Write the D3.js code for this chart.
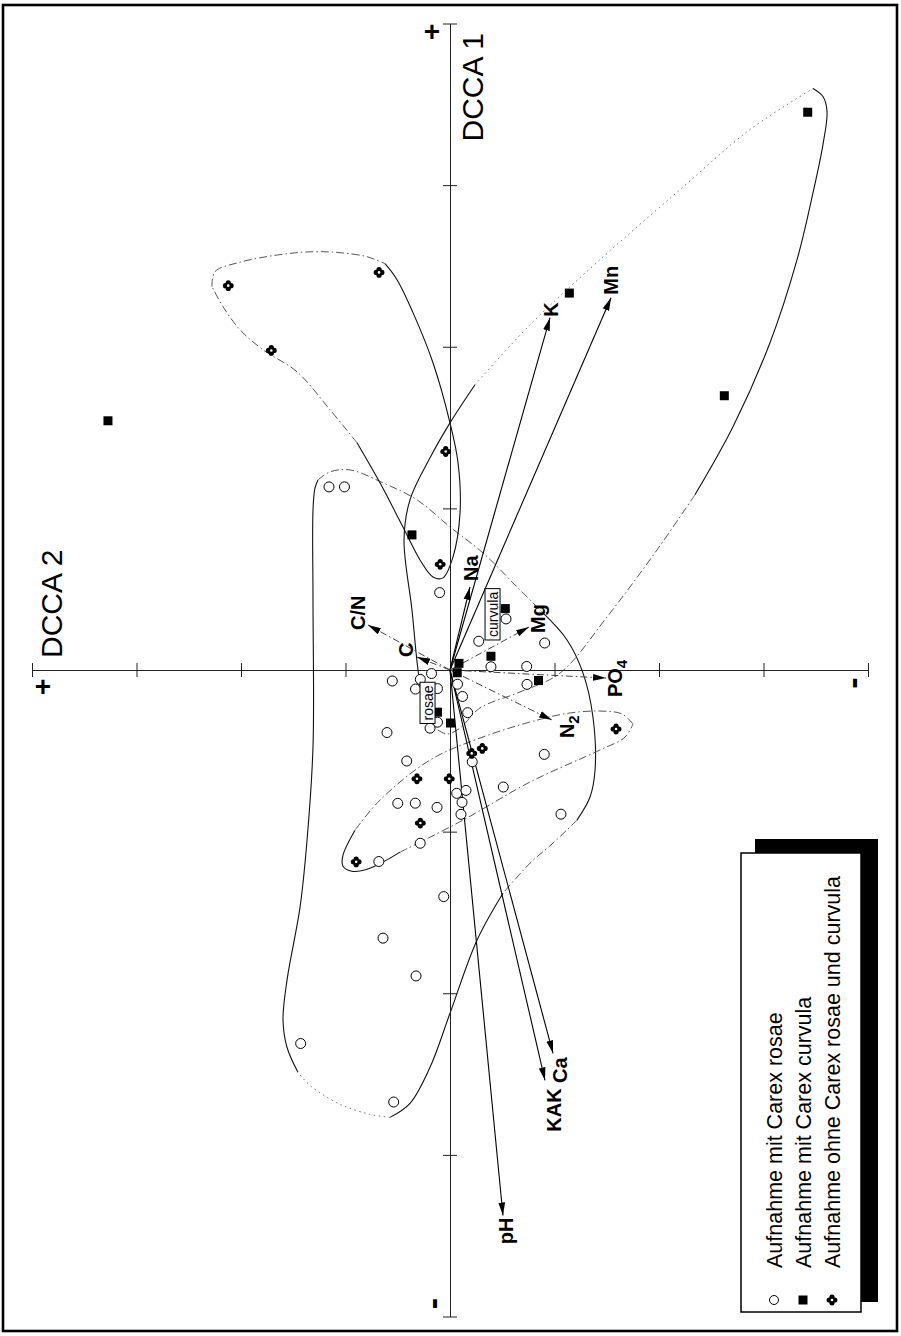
<!DOCTYPE html>
<html><head><meta charset="utf-8">
<script src="https://cdn.jsdelivr.net/npm/d3@7"></script>
<style>
html,body{margin:0;padding:0;background:#fff;}
svg{display:block;}
text{font-family:"Liberation Sans",Arial,Helvetica,sans-serif;}
</style></head><body>
<svg id="chart" width="901" height="1336"></svg>
<script>
// ---------- DATA (pairs are [DCCA 2, DCCA 1], in axis tick units) ----------
const axisTicks = [-4,-3,-2,-1,0,1,2,3,4];
const axisNames = ["DCCA 1","DCCA 2"];

const rosaePts = [
[1.158,1.133],[1.010,1.133],[0.099,0.479],[-0.536,0.316],[-0.275,0.178],[-0.906,0.167],
[-0.392,0.020],[-0.734,0.022],[0.552,-0.068],[0.177,-0.022],[0.284,-0.058],[0.330,-0.118],
[0.120,-0.115],[-0.072,-0.088],[-0.120,-0.164],[-0.169,-0.264],[-0.737,-0.089],[0.603,-0.387],
[0.120,-0.323],[0.191,-0.360],[0.414,-0.563],[-0.213,-0.568],[-0.902,-0.522],[-0.510,-0.724],
[-0.064,-0.763],[-0.153,-0.745],[-0.115,-0.819],[0.500,-0.825],[0.332,-0.824],[0.124,-0.850],
[-0.105,-0.893],[-1.062,-0.892],[0.285,-1.072],[0.681,-1.185],[0.060,-1.402],[0.641,-1.659],
[0.325,-1.893],[1.429,-2.311],[0.539,-2.673]];

const curvulaPts = [
[-3.423,3.451],[-1.142,2.332],[-2.625,1.697],[3.273,1.542],[0.364,0.836],[-0.529,0.380],
[-0.392,0.085],[-0.086,0.041],[-0.069,-0.017],[-0.847,-0.065],[0.120,-0.261],[-0.005,-0.328]];

const ohnePts = [
[2.122,2.378],[0.679,2.460],[1.710,1.977],[0.041,1.352],[0.094,0.654],[-0.208,-0.516],
[-0.309,-0.485],[0.316,-0.673],[0.007,-0.673],[0.284,-0.947],[0.898,-1.187],[-1.589,-0.365]];

const envNames = ["K","Mn","Na","Mg","C","C/N","PO4","N2","pH","KAK","Ca"];
const envDcca2 = [-0.957,-1.541,-0.191,-0.756,0.316,0.785,-1.493,-0.976,-0.507,-0.909,-0.986];
const envDcca1 = [2.180,2.303,0.514,0.266,0.080,0.279,-0.050,-0.310,-3.375,-2.539,-2.372];

const speciesNames = ["curvula","rosae"];
const speciesPos = [[-0.407,0.344],[0.215,-0.204]];

const legendLabels = ["Aufnahme mit Carex rosae","Aufnahme mit Carex curvula","Aufnahme ohne Carex rosae und curvula"];

// envelopes: each is a list of open segments (data units)
const hullCurvula = [
 [[-3.474,3.598],[-3.569,3.548],[-3.608,3.455],[-3.569,3.251],[-3.474,2.954],[-3.321,2.539],[-3.062,2.025],[-2.708,1.505],[-2.344,1.084]],
 [[-2.344,1.084],[-1.981,0.743],[-1.502,0.328],[-1.053,-0.019],[-0.670,-0.136],[-0.287,-0.235],[-0.096,-0.359],[0.029,-0.396],[0.144,-0.359]],
 [[0.144,-0.359],[0.249,-0.217],[0.306,0.0],[0.364,0.372],[0.440,0.805],[0.383,1.053],[0.191,1.313],[0.0,1.529],[-0.239,1.765]],
 [[-0.239,1.765],[-0.766,2.136],[-1.435,2.539],[-2.201,2.972],[-2.871,3.344],[-3.474,3.598]]];
const hullCurvulaKind = ["solid","dashdot","solid","dotted"];

const hullRosae = [
 [[1.263,1.176],[1.148,1.226],[0.957,1.238],[0.641,1.158],[0.316,1.053],[0.0,0.885],[-0.316,0.724],[-0.641,0.514],[-0.890,0.353]],
 [[-0.890,0.353],[-1.120,0.186],[-1.273,-0.019],[-1.368,-0.291],[-1.388,-0.619],[-1.340,-0.786],[-1.215,-0.929]],
 [[-1.215,-0.929],[-0.986,-1.071],[-0.766,-1.195],[-0.507,-1.381]],
 [[-0.507,-1.381],[-0.258,-1.672],[0.0,-2.124],[0.191,-2.458],[0.383,-2.681],[0.574,-2.768]],
 [[0.574,-2.768],[0.766,-2.749],[1.053,-2.687],[1.340,-2.570],[1.455,-2.489]],
 [[1.455,-2.489],[1.560,-2.334],[1.598,-2.167],[1.560,-1.920],[1.435,-1.467],[1.368,-1.053],[1.311,-0.477],[1.311,0.433],[1.311,0.991],[1.292,1.127],[1.263,1.176]]];
const hullRosaeKind = ["dashdot","solid","dashdot","solid","dotted","solid"];

const hullOhneUpper = [
 [[2.278,2.372],[2.249,2.464],[2.029,2.520],[1.627,2.570],[1.311,2.588],[1.053,2.582],[0.794,2.557],[0.622,2.514]],
 [[0.622,2.514],[0.507,2.415],[0.354,2.211],[0.163,1.901],[0.0,1.529],[-0.077,1.282],[-0.096,0.972],[-0.029,0.700],[0.067,0.570],[0.163,0.576],[0.287,0.681],[0.450,0.885],[0.670,1.158],[0.890,1.406]],
 [[0.890,1.406],[1.148,1.610],[1.464,1.845],[1.789,1.981],[2.010,2.105],[2.172,2.248],[2.278,2.372]]];
const hullOhneUpperKind = ["dashdot","solid","dashdot"];

const hullOhneLower = [
 [[-1.751,-0.334],[-1.646,-0.272],[-1.435,-0.254],[-1.148,-0.266],[-0.833,-0.310],[-0.287,-0.421],[0.191,-0.557],[0.670,-0.805],[0.909,-0.991]],
 [[0.909,-0.991],[1.024,-1.146],[1.024,-1.214],[0.938,-1.245],[0.766,-1.226],[0.478,-1.127]],
 [[0.478,-1.127],[-0.124,-0.929],[-0.766,-0.693],[-1.435,-0.495],[-1.675,-0.415],[-1.751,-0.334]]];
const hullOhneLowerKind = ["dashdot","solid","dashdot"];

// ---------- DRAWING ----------
const svg = d3.select("#chart");
const x = d3.scaleLinear().domain([4,-4]).range([32,868]);      // DCCA 2 (horizontal in picture)
const y = d3.scaleLinear().domain([4,-4]).range([23.5,1316.5]); // DCCA 1 (vertical in picture)
const x0 = x(0), y0 = y(0);
const FONT = '"Liberation Sans",Arial,Helvetica,sans-serif';

// frame
svg.append("rect").attr("x",3).attr("y",5).attr("width",894).attr("height",1326)
  .attr("fill","#fff").attr("stroke","#000").attr("stroke-width",2.6);

const defs = svg.append("defs");
defs.append("marker").attr("id","ah").attr("viewBox","0 -4 13 8").attr("refX",13).attr("refY",0)
  .attr("markerWidth",13).attr("markerHeight",8).attr("markerUnits","userSpaceOnUse").attr("orient","auto")
  .append("path").attr("d","M0,-3.4L13,0L0,3.4Z").attr("fill","#000");

const styles = {
  solid:{stroke:"#111",width:1.1,dash:null},
  dashdot:{stroke:"#555",width:1,dash:"8,3,1.5,3"},
  dotted:{stroke:"#777",width:1,dash:"1.5,3.5"}
};
const line = d3.line().x(d=>x(d[0])).y(d=>y(d[1])).curve(d3.curveCatmullRom.alpha(0.5));
function drawHull(segs, kinds){
  const g = svg.append("g").attr("fill","none");
  segs.forEach((s,i)=>{
    const st = styles[kinds[i]];
    g.append("path").attr("d",line(s)).attr("stroke",st.stroke).attr("stroke-width",st.width)
     .attr("stroke-dasharray",st.dash);
  });
}
drawHull(hullRosae, hullRosaeKind);
drawHull(hullCurvula, hullCurvulaKind);
drawHull(hullOhneUpper, hullOhneUpperKind);
drawHull(hullOhneLower, hullOhneLowerKind);

// axes
const gx = svg.append("g").attr("transform",`translate(0,${y0})`)
  .call(d3.axisBottom(x).tickValues(axisTicks).tickSize(0).tickSizeOuter(0).tickFormat(""));
gx.selectAll(".tick line").attr("y1",-7).attr("y2",7).attr("stroke","#222");
gx.select(".domain").attr("stroke","#222");
const gy = svg.append("g").attr("transform",`translate(${x0},0)`)
  .call(d3.axisLeft(y).tickValues(axisTicks).tickSize(0).tickSizeOuter(0).tickFormat(""));
gy.selectAll(".tick line").attr("x1",-7).attr("x2",7).attr("stroke","#222");
gy.select(".domain").attr("stroke","#222");

// axis sign labels
function sign(txt, px, py, rot){
  svg.append("text").attr("transform",`translate(${px},${py}) rotate(${rot})`)
    .attr("text-anchor","middle").attr("dominant-baseline","central")
    .attr("font-size",txt==="+"?28:34).attr("font-weight","bold").attr("font-family",FONT).text(txt);
}
sign("+", x0-18, y(4)+8, 0);
sign("-", x0-18, y(-4)-13, -90);
sign("+", x(4)+11, y0+16, 0);
sign("-", x(-4)-16, y0+13, -90);

// axis titles
svg.append("text").attr("transform",`translate(${x0+33},${y(4)+118}) rotate(-90)`)
  .attr("font-size",30).attr("font-family",FONT).text(axisNames[0]);
svg.append("text").attr("transform",`translate(${x(4)+30},${y0-12}) rotate(-90)`)
  .attr("font-size",30).attr("font-family",FONT).text(axisNames[1]);

// environmental arrows
const shortArrow = new Set(["C","C/N","Mg","PO4","N2"]);
const labelPlace = {
  "K":["start",8,-1], "Mn":["start",7,-3], "Na":["start",8,-6], "Mg":["start",16,6],
  "C":["start",-4,0], "C/N":["start",-3,5], "PO4":["start",16,19], "N2":["start",22,18],
  "pH":["end",10,2], "KAK":["end",16,8], "Ca":["end",14,4]
};
envNames.forEach((n,i)=>{
  const tx = x(envDcca2[i]), ty = y(envDcca1[i]);
  const sh = shortArrow.has(n);
  svg.append("line").attr("x1",x0).attr("y1",y0).attr("x2",tx).attr("y2",ty)
    .attr("stroke",sh?"#444":"#000").attr("stroke-width",sh?1:1.1)
    .attr("stroke-dasharray",sh?"7,3,1.5,3":null).attr("marker-end","url(#ah)");
  const p = labelPlace[n];
  const t = svg.append("text").attr("transform",`translate(${tx+p[1]},${ty+p[2]}) rotate(-90)`)
    .attr("text-anchor",p[0]).attr("font-size",20).attr("font-weight","bold").attr("font-family",FONT);
  const m = n.match(/^([A-Za-z\/]+?)(\d)$/);
  if(m){
    t.append("tspan").text(m[1]);
    t.append("tspan").attr("font-size",15).attr("dy",5).text(m[2]);
  } else t.text(n);
});

// points
const gp = svg.append("g");
gp.selectAll("circle.r").data(rosaePts).join("circle").attr("class","r")
  .attr("cx",d=>x(d[0])).attr("cy",d=>y(d[1])).attr("r",5)
  .attr("fill","#fff").attr("stroke","#000").attr("stroke-width",1);
gp.selectAll("rect.c").data(curvulaPts).join("rect").attr("class","c")
  .attr("x",d=>x(d[0])-4.5).attr("y",d=>y(d[1])-4.5).attr("width",9).attr("height",9).attr("fill","#000");
function crossSym(g, cx, cy){
  const s = g.append("g").attr("transform",`translate(${cx},${cy})`);
  [[2.8,0],[-2.8,0],[0,2.8],[0,-2.8]].forEach(o=>s.append("circle").attr("cx",o[0]).attr("cy",o[1]).attr("r",2.6).attr("fill","#000"));
  s.append("circle").attr("r",1.3).attr("fill","#fff");
}
ohnePts.forEach(d=>crossSym(gp, x(d[0]), y(d[1])));

// species labels with boxes
speciesNames.forEach((n,i)=>{
  const g = svg.append("g").attr("transform",`translate(${x(speciesPos[i][0])},${y(speciesPos[i][1])}) rotate(-90)`);
  const t = g.append("text").attr("text-anchor","middle").attr("dominant-baseline","central")
    .attr("font-size",14).attr("font-family",FONT).text(n);
  const bb = t.node().getBBox();
  g.insert("rect","text").attr("x",bb.x-3).attr("y",bb.y+0.5).attr("width",bb.width+6).attr("height",bb.height-1)
    .attr("fill","#fff").attr("stroke","#000").attr("stroke-width",1);
});

// legend
svg.append("rect").attr("x",755).attr("y",839).attr("width",123).attr("height",463).attr("fill","#000");
svg.append("rect").attr("x",741).attr("y",853).attr("width",120).attr("height",459)
  .attr("fill","#fff").attr("stroke","#000").attr("stroke-width",1.5);
legendLabels.forEach((l,i)=>{
  const bx = 782 + i*29;
  svg.append("text").attr("transform",`translate(${bx},1268) rotate(-90)`)
    .attr("font-size",21.5).attr("font-family",FONT).text(l);
  const sx = bx-8, sy = 1300;
  if(i===0) svg.append("circle").attr("cx",sx).attr("cy",sy).attr("r",4.5).attr("fill","#fff").attr("stroke","#000");
  else if(i===1) svg.append("rect").attr("x",sx-4.5).attr("y",sy-4.5).attr("width",9).attr("height",9).attr("fill","#000");
  else crossSym(svg, sx, sy);
});
</script>
</body></html>
